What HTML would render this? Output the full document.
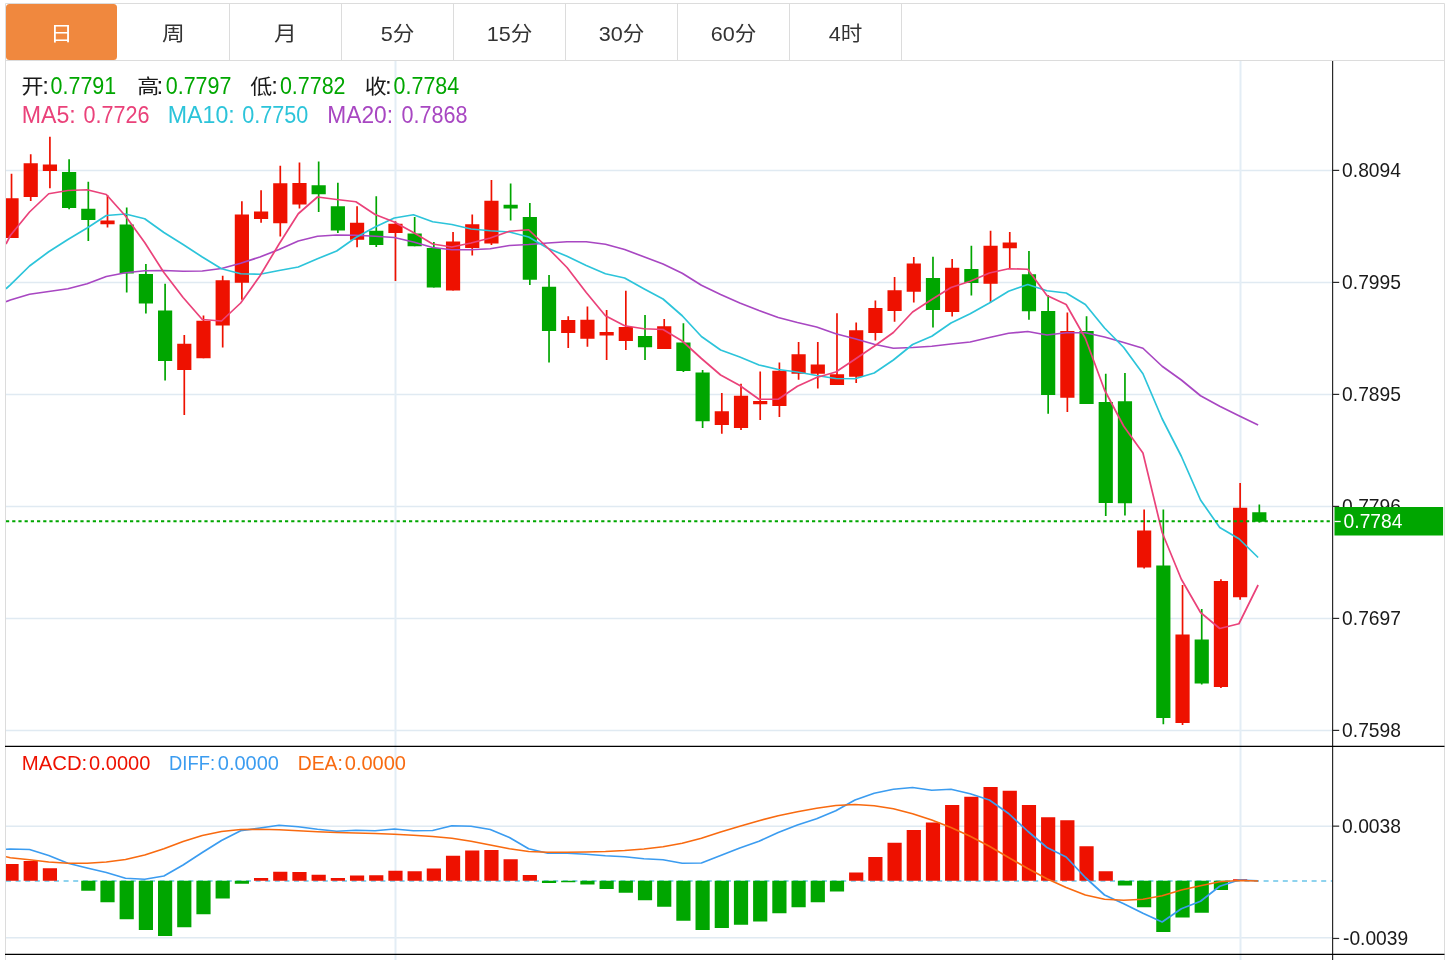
<!DOCTYPE html>
<html lang="zh"><head><meta charset="utf-8"><title>K线图</title>
<style>html,body{margin:0;padding:0;background:#fff}body{width:1456px;height:960px;overflow:hidden}svg{display:block}text{font-family:"Liberation Sans","Noto Sans CJK SC",sans-serif}</style></head><body>
<svg width="1456" height="960" viewBox="0 0 1456 960">
<rect width="1456" height="960" fill="#fff"/>
<defs><clipPath id="c"><rect x="6" y="61" width="1326" height="899"/></clipPath></defs>
<g stroke="#e0eaf2" stroke-width="1.5" fill="none">
<path d="M6 170.5 H1332"/>
<path d="M6 282.5 H1332"/>
<path d="M6 394.5 H1332"/>
<path d="M6 506.5 H1332"/>
<path d="M6 618.5 H1332"/>
<path d="M6 730.5 H1332"/>
<path d="M6 826.25 H1332"/>
<path d="M6 937.75 H1332"/>
</g>
<g stroke="#e3edf5" stroke-width="2" fill="none">
<path d="M395.5 61 V960"/>
<path d="M1240.5 61 V960"/>
</g>
<path d="M6 880.9 H1332" stroke="#8fd3ee" stroke-width="2" stroke-dasharray="5 4.6" fill="none"/>
<g stroke="#dcdcdc" stroke-width="1" fill="none">
<path d="M5.5 3.5 H1444.5 V960 M5.5 3.5 V960 M5.5 60.5 H1444.5"/>
<path d="M229.5 4 V60"/>
<path d="M341.5 4 V60"/>
<path d="M453.5 4 V60"/>
<path d="M565.5 4 V60"/>
<path d="M677.5 4 V60"/>
<path d="M789.5 4 V60"/>
<path d="M901.5 4 V60"/>
</g>
<rect x="6" y="4" width="111" height="56" rx="3.5" fill="#f0883e"/>
<g font-size="20" text-anchor="middle" fill="#333">
<text transform="translate(61.5,40.9) scale(1.14,1)" fill="#fff">日</text>
<text transform="translate(173.5,40.9) scale(1.14,1)">周</text>
<text transform="translate(285.5,40.9) scale(1.14,1)">月</text>
<text transform="translate(397.5,40.9) scale(1.08,1)">5分</text>
<text transform="translate(509.5,40.9) scale(1.08,1)">15分</text>
<text transform="translate(621.5,40.9) scale(1.08,1)">30分</text>
<text transform="translate(733.5,40.9) scale(1.08,1)">60分</text>
<text transform="translate(845.5,40.9) scale(1.08,1)">4时</text>
</g>
<g clip-path="url(#c)">
<path d="M11.52 173.75 V238.00" stroke="#ee1100" stroke-width="1.7"/>
<rect x="4.42" y="198.25" width="14.2" height="39.75" fill="#ee1100"/>
<path d="M30.72 154.25 V201.00" stroke="#ee1100" stroke-width="1.7"/>
<rect x="23.62" y="163.25" width="14.2" height="33.75" fill="#ee1100"/>
<path d="M49.91 136.75 V188.30" stroke="#ee1100" stroke-width="1.7"/>
<rect x="42.81" y="164.50" width="14.2" height="6.50" fill="#ee1100"/>
<path d="M69.11 159.25 V209.25" stroke="#00a600" stroke-width="1.7"/>
<rect x="62.01" y="172.00" width="14.2" height="36.00" fill="#00a600"/>
<path d="M88.31 181.75 V241.00" stroke="#00a600" stroke-width="1.7"/>
<rect x="81.21" y="208.75" width="14.2" height="11.25" fill="#00a600"/>
<path d="M107.50 195.00 V227.50" stroke="#ee1100" stroke-width="1.7"/>
<rect x="100.41" y="220.50" width="14.2" height="3.75" fill="#ee1100"/>
<path d="M126.70 207.50 V292.50" stroke="#00a600" stroke-width="1.7"/>
<rect x="119.60" y="224.50" width="14.2" height="49.00" fill="#00a600"/>
<path d="M145.90 264.00 V313.50" stroke="#00a600" stroke-width="1.7"/>
<rect x="138.80" y="274.00" width="14.2" height="29.50" fill="#00a600"/>
<path d="M165.10 283.75 V380.50" stroke="#00a600" stroke-width="1.7"/>
<rect x="158.00" y="310.50" width="14.2" height="50.50" fill="#00a600"/>
<path d="M184.29 335.00 V415.00" stroke="#ee1100" stroke-width="1.7"/>
<rect x="177.19" y="343.75" width="14.2" height="26.25" fill="#ee1100"/>
<path d="M203.49 315.50 V358.25" stroke="#ee1100" stroke-width="1.7"/>
<rect x="196.39" y="320.75" width="14.2" height="37.50" fill="#ee1100"/>
<path d="M222.69 275.75 V347.50" stroke="#ee1100" stroke-width="1.7"/>
<rect x="215.59" y="280.25" width="14.2" height="45.25" fill="#ee1100"/>
<path d="M241.88 201.25 V299.75" stroke="#ee1100" stroke-width="1.7"/>
<rect x="234.78" y="214.50" width="14.2" height="68.25" fill="#ee1100"/>
<path d="M261.08 190.25 V222.75" stroke="#ee1100" stroke-width="1.7"/>
<rect x="253.98" y="211.50" width="14.2" height="7.50" fill="#ee1100"/>
<path d="M280.28 165.75 V236.50" stroke="#ee1100" stroke-width="1.7"/>
<rect x="273.18" y="183.25" width="14.2" height="40.00" fill="#ee1100"/>
<path d="M299.47 162.50 V208.50" stroke="#ee1100" stroke-width="1.7"/>
<rect x="292.37" y="183.00" width="14.2" height="21.50" fill="#ee1100"/>
<path d="M318.67 161.50 V212.00" stroke="#00a600" stroke-width="1.7"/>
<rect x="311.57" y="185.25" width="14.2" height="9.00" fill="#00a600"/>
<path d="M337.87 182.75 V233.00" stroke="#00a600" stroke-width="1.7"/>
<rect x="330.77" y="206.25" width="14.2" height="24.25" fill="#00a600"/>
<path d="M357.07 206.25 V247.25" stroke="#ee1100" stroke-width="1.7"/>
<rect x="349.97" y="222.75" width="14.2" height="17.00" fill="#ee1100"/>
<path d="M376.26 196.25 V247.00" stroke="#00a600" stroke-width="1.7"/>
<rect x="369.16" y="230.75" width="14.2" height="14.25" fill="#00a600"/>
<path d="M395.46 221.25 V281.00" stroke="#ee1100" stroke-width="1.7"/>
<rect x="388.36" y="223.75" width="14.2" height="9.25" fill="#ee1100"/>
<path d="M414.66 217.00 V246.25" stroke="#00a600" stroke-width="1.7"/>
<rect x="407.56" y="233.50" width="14.2" height="12.75" fill="#00a600"/>
<path d="M433.85 242.00 V287.50" stroke="#00a600" stroke-width="1.7"/>
<rect x="426.75" y="248.00" width="14.2" height="39.50" fill="#00a600"/>
<path d="M453.05 232.00 V290.50" stroke="#ee1100" stroke-width="1.7"/>
<rect x="445.95" y="241.50" width="14.2" height="49.00" fill="#ee1100"/>
<path d="M472.25 214.50 V255.50" stroke="#ee1100" stroke-width="1.7"/>
<rect x="465.15" y="224.25" width="14.2" height="23.75" fill="#ee1100"/>
<path d="M491.44 180.00 V245.00" stroke="#ee1100" stroke-width="1.7"/>
<rect x="484.34" y="200.75" width="14.2" height="42.75" fill="#ee1100"/>
<path d="M510.64 183.50 V220.50" stroke="#00a600" stroke-width="1.7"/>
<rect x="503.54" y="204.75" width="14.2" height="3.75" fill="#00a600"/>
<path d="M529.84 203.00 V285.00" stroke="#00a600" stroke-width="1.7"/>
<rect x="522.74" y="217.00" width="14.2" height="62.75" fill="#00a600"/>
<path d="M549.04 275.00 V362.50" stroke="#00a600" stroke-width="1.7"/>
<rect x="541.94" y="286.75" width="14.2" height="44.25" fill="#00a600"/>
<path d="M568.23 316.25 V348.00" stroke="#ee1100" stroke-width="1.7"/>
<rect x="561.13" y="320.00" width="14.2" height="13.00" fill="#ee1100"/>
<path d="M587.43 306.50 V346.75" stroke="#ee1100" stroke-width="1.7"/>
<rect x="580.33" y="319.75" width="14.2" height="19.00" fill="#ee1100"/>
<path d="M606.63 310.00 V360.00" stroke="#ee1100" stroke-width="1.7"/>
<rect x="599.53" y="332.00" width="14.2" height="3.50" fill="#ee1100"/>
<path d="M625.82 290.75 V350.00" stroke="#ee1100" stroke-width="1.7"/>
<rect x="618.72" y="327.00" width="14.2" height="14.00" fill="#ee1100"/>
<path d="M645.02 315.00 V360.00" stroke="#00a600" stroke-width="1.7"/>
<rect x="637.92" y="336.00" width="14.2" height="11.25" fill="#00a600"/>
<path d="M664.22 319.00 V349.00" stroke="#ee1100" stroke-width="1.7"/>
<rect x="657.12" y="326.25" width="14.2" height="22.75" fill="#ee1100"/>
<path d="M683.41 323.25 V372.00" stroke="#00a600" stroke-width="1.7"/>
<rect x="676.31" y="342.50" width="14.2" height="28.50" fill="#00a600"/>
<path d="M702.61 370.00 V428.00" stroke="#00a600" stroke-width="1.7"/>
<rect x="695.51" y="372.50" width="14.2" height="48.75" fill="#00a600"/>
<path d="M721.81 393.00 V433.75" stroke="#ee1100" stroke-width="1.7"/>
<rect x="714.71" y="411.25" width="14.2" height="13.75" fill="#ee1100"/>
<path d="M741.01 383.75 V430.00" stroke="#ee1100" stroke-width="1.7"/>
<rect x="733.91" y="395.75" width="14.2" height="32.25" fill="#ee1100"/>
<path d="M760.20 371.50 V420.00" stroke="#ee1100" stroke-width="1.7"/>
<rect x="753.10" y="401.00" width="14.2" height="3.25" fill="#ee1100"/>
<path d="M779.40 362.50 V417.00" stroke="#ee1100" stroke-width="1.7"/>
<rect x="772.30" y="370.75" width="14.2" height="35.25" fill="#ee1100"/>
<path d="M798.60 342.00 V379.75" stroke="#ee1100" stroke-width="1.7"/>
<rect x="791.50" y="354.25" width="14.2" height="19.50" fill="#ee1100"/>
<path d="M817.79 342.00 V388.50" stroke="#ee1100" stroke-width="1.7"/>
<rect x="810.69" y="364.50" width="14.2" height="9.25" fill="#ee1100"/>
<path d="M836.99 313.25 V385.00" stroke="#ee1100" stroke-width="1.7"/>
<rect x="829.89" y="374.25" width="14.2" height="10.75" fill="#ee1100"/>
<path d="M856.19 322.50 V383.00" stroke="#ee1100" stroke-width="1.7"/>
<rect x="849.09" y="330.25" width="14.2" height="46.50" fill="#ee1100"/>
<path d="M875.38 300.50 V340.50" stroke="#ee1100" stroke-width="1.7"/>
<rect x="868.28" y="308.00" width="14.2" height="25.00" fill="#ee1100"/>
<path d="M894.58 277.00 V321.75" stroke="#ee1100" stroke-width="1.7"/>
<rect x="887.48" y="290.25" width="14.2" height="20.75" fill="#ee1100"/>
<path d="M913.78 257.00 V302.50" stroke="#ee1100" stroke-width="1.7"/>
<rect x="906.68" y="263.50" width="14.2" height="28.25" fill="#ee1100"/>
<path d="M932.98 256.75 V327.50" stroke="#00a600" stroke-width="1.7"/>
<rect x="925.88" y="278.00" width="14.2" height="32.00" fill="#00a600"/>
<path d="M952.17 259.00 V316.50" stroke="#ee1100" stroke-width="1.7"/>
<rect x="945.07" y="267.75" width="14.2" height="44.25" fill="#ee1100"/>
<path d="M971.37 245.75 V295.50" stroke="#00a600" stroke-width="1.7"/>
<rect x="964.27" y="269.00" width="14.2" height="14.00" fill="#00a600"/>
<path d="M990.57 230.75 V302.50" stroke="#ee1100" stroke-width="1.7"/>
<rect x="983.47" y="245.75" width="14.2" height="38.00" fill="#ee1100"/>
<path d="M1009.76 232.00 V268.75" stroke="#ee1100" stroke-width="1.7"/>
<rect x="1002.66" y="242.50" width="14.2" height="5.75" fill="#ee1100"/>
<path d="M1028.96 251.00 V319.75" stroke="#00a600" stroke-width="1.7"/>
<rect x="1021.86" y="274.25" width="14.2" height="37.00" fill="#00a600"/>
<path d="M1048.16 295.00 V413.75" stroke="#00a600" stroke-width="1.7"/>
<rect x="1041.06" y="311.00" width="14.2" height="84.00" fill="#00a600"/>
<path d="M1067.36 312.50 V412.00" stroke="#ee1100" stroke-width="1.7"/>
<rect x="1060.26" y="331.00" width="14.2" height="66.75" fill="#ee1100"/>
<path d="M1086.55 316.25 V404.00" stroke="#00a600" stroke-width="1.7"/>
<rect x="1079.45" y="331.00" width="14.2" height="73.00" fill="#00a600"/>
<path d="M1105.75 373.75 V516.00" stroke="#00a600" stroke-width="1.7"/>
<rect x="1098.65" y="402.00" width="14.2" height="101.00" fill="#00a600"/>
<path d="M1124.95 373.00 V515.50" stroke="#00a600" stroke-width="1.7"/>
<rect x="1117.85" y="401.25" width="14.2" height="102.00" fill="#00a600"/>
<path d="M1144.14 509.50 V568.50" stroke="#ee1100" stroke-width="1.7"/>
<rect x="1137.04" y="530.50" width="14.2" height="37.00" fill="#ee1100"/>
<path d="M1163.34 509.50 V724.25" stroke="#00a600" stroke-width="1.7"/>
<rect x="1156.24" y="565.50" width="14.2" height="152.50" fill="#00a600"/>
<path d="M1182.54 585.00 V725.00" stroke="#ee1100" stroke-width="1.7"/>
<rect x="1175.44" y="634.50" width="14.2" height="88.50" fill="#ee1100"/>
<path d="M1201.73 609.00 V684.50" stroke="#00a600" stroke-width="1.7"/>
<rect x="1194.63" y="639.50" width="14.2" height="44.00" fill="#00a600"/>
<path d="M1220.93 579.25 V688.00" stroke="#ee1100" stroke-width="1.7"/>
<rect x="1213.83" y="581.00" width="14.2" height="106.00" fill="#ee1100"/>
<path d="M1240.13 483.00 V599.75" stroke="#ee1100" stroke-width="1.7"/>
<rect x="1233.03" y="507.75" width="14.2" height="89.50" fill="#ee1100"/>
<path d="M1259.32 504.50 V522.50" stroke="#00a600" stroke-width="1.7"/>
<rect x="1252.22" y="512.25" width="14.2" height="9.50" fill="#00a600"/>
<rect x="4.42" y="864.00" width="14.2" height="16.75" fill="#ee1100"/>
<rect x="23.62" y="861.00" width="14.2" height="19.75" fill="#ee1100"/>
<rect x="42.81" y="868.25" width="14.2" height="12.50" fill="#ee1100"/>
<rect x="81.21" y="880.75" width="14.2" height="10.00" fill="#00a600"/>
<rect x="100.41" y="880.75" width="14.2" height="21.50" fill="#00a600"/>
<rect x="119.60" y="880.75" width="14.2" height="38.50" fill="#00a600"/>
<rect x="138.80" y="880.75" width="14.2" height="49.25" fill="#00a600"/>
<rect x="158.00" y="880.75" width="14.2" height="55.25" fill="#00a600"/>
<rect x="177.19" y="880.75" width="14.2" height="46.50" fill="#00a600"/>
<rect x="196.39" y="880.75" width="14.2" height="33.50" fill="#00a600"/>
<rect x="215.59" y="880.75" width="14.2" height="17.75" fill="#00a600"/>
<rect x="234.78" y="880.75" width="14.2" height="3.00" fill="#00a600"/>
<rect x="253.98" y="878.00" width="14.2" height="2.75" fill="#ee1100"/>
<rect x="273.18" y="871.75" width="14.2" height="9.00" fill="#ee1100"/>
<rect x="292.37" y="872.00" width="14.2" height="8.75" fill="#ee1100"/>
<rect x="311.57" y="874.75" width="14.2" height="6.00" fill="#ee1100"/>
<rect x="330.77" y="878.00" width="14.2" height="2.75" fill="#ee1100"/>
<rect x="349.97" y="875.50" width="14.2" height="5.25" fill="#ee1100"/>
<rect x="369.16" y="875.25" width="14.2" height="5.50" fill="#ee1100"/>
<rect x="388.36" y="870.75" width="14.2" height="10.00" fill="#ee1100"/>
<rect x="407.56" y="871.25" width="14.2" height="9.50" fill="#ee1100"/>
<rect x="426.75" y="868.50" width="14.2" height="12.25" fill="#ee1100"/>
<rect x="445.95" y="855.75" width="14.2" height="25.00" fill="#ee1100"/>
<rect x="465.15" y="850.50" width="14.2" height="30.25" fill="#ee1100"/>
<rect x="484.34" y="850.00" width="14.2" height="30.75" fill="#ee1100"/>
<rect x="503.54" y="859.25" width="14.2" height="21.50" fill="#ee1100"/>
<rect x="522.74" y="875.00" width="14.2" height="5.75" fill="#ee1100"/>
<rect x="541.94" y="880.75" width="14.2" height="2.25" fill="#00a600"/>
<rect x="561.13" y="880.75" width="14.2" height="1.50" fill="#00a600"/>
<rect x="580.33" y="880.75" width="14.2" height="3.75" fill="#00a600"/>
<rect x="599.53" y="880.75" width="14.2" height="8.25" fill="#00a600"/>
<rect x="618.72" y="880.75" width="14.2" height="12.00" fill="#00a600"/>
<rect x="637.92" y="880.75" width="14.2" height="19.50" fill="#00a600"/>
<rect x="657.12" y="880.75" width="14.2" height="26.00" fill="#00a600"/>
<rect x="676.31" y="880.75" width="14.2" height="40.00" fill="#00a600"/>
<rect x="695.51" y="880.75" width="14.2" height="49.25" fill="#00a600"/>
<rect x="714.71" y="880.75" width="14.2" height="47.25" fill="#00a600"/>
<rect x="733.91" y="880.75" width="14.2" height="44.00" fill="#00a600"/>
<rect x="753.10" y="880.75" width="14.2" height="40.75" fill="#00a600"/>
<rect x="772.30" y="880.75" width="14.2" height="32.50" fill="#00a600"/>
<rect x="791.50" y="880.75" width="14.2" height="26.50" fill="#00a600"/>
<rect x="810.69" y="880.75" width="14.2" height="21.50" fill="#00a600"/>
<rect x="829.89" y="880.75" width="14.2" height="10.75" fill="#00a600"/>
<rect x="849.09" y="872.50" width="14.2" height="8.25" fill="#ee1100"/>
<rect x="868.28" y="857.00" width="14.2" height="23.75" fill="#ee1100"/>
<rect x="887.48" y="842.75" width="14.2" height="38.00" fill="#ee1100"/>
<rect x="906.68" y="830.00" width="14.2" height="50.75" fill="#ee1100"/>
<rect x="925.88" y="822.50" width="14.2" height="58.25" fill="#ee1100"/>
<rect x="945.07" y="805.00" width="14.2" height="75.75" fill="#ee1100"/>
<rect x="964.27" y="796.75" width="14.2" height="84.00" fill="#ee1100"/>
<rect x="983.47" y="787.00" width="14.2" height="93.75" fill="#ee1100"/>
<rect x="1002.66" y="790.75" width="14.2" height="90.00" fill="#ee1100"/>
<rect x="1021.86" y="805.00" width="14.2" height="75.75" fill="#ee1100"/>
<rect x="1041.06" y="817.25" width="14.2" height="63.50" fill="#ee1100"/>
<rect x="1060.26" y="820.25" width="14.2" height="60.50" fill="#ee1100"/>
<rect x="1079.45" y="846.25" width="14.2" height="34.50" fill="#ee1100"/>
<rect x="1098.65" y="871.25" width="14.2" height="9.50" fill="#ee1100"/>
<rect x="1117.85" y="880.75" width="14.2" height="4.75" fill="#00a600"/>
<rect x="1137.04" y="880.75" width="14.2" height="26.50" fill="#00a600"/>
<rect x="1156.24" y="880.75" width="14.2" height="51.25" fill="#00a600"/>
<rect x="1175.44" y="880.75" width="14.2" height="36.75" fill="#00a600"/>
<rect x="1194.63" y="880.75" width="14.2" height="32.00" fill="#00a600"/>
<rect x="1213.83" y="880.75" width="14.2" height="9.25" fill="#00a600"/>
<rect x="1233.03" y="879.25" width="14.2" height="1.50" fill="#ee1100"/>
<polyline points="6.00,301.75 10.32,300.00 29.52,294.25 48.71,291.50 67.91,288.75 87.11,283.75 106.30,276.50 125.50,272.75 144.70,270.75 163.90,270.50 183.09,271.25 202.29,271.00 221.49,268.50 240.68,263.25 259.88,257.00 279.08,249.50 298.27,241.00 317.47,236.25 336.67,235.00 355.87,235.25 375.06,236.25 394.26,237.50 413.46,242.00 432.65,247.50 451.85,249.75 471.05,249.75 490.24,248.75 509.44,245.50 528.64,244.50 547.84,243.00 567.03,241.75 586.23,241.75 605.43,244.25 624.62,249.50 643.82,256.75 663.02,264.00 682.21,273.25 701.41,285.25 720.61,294.50 739.81,303.00 759.00,310.50 778.20,317.50 797.40,322.50 816.59,327.00 835.79,333.75 854.99,338.75 874.18,344.25 893.38,348.25 912.58,347.50 931.78,346.25 950.97,344.00 970.17,342.00 989.37,337.50 1008.56,333.25 1027.76,331.50 1046.96,335.00 1066.15,332.75 1085.35,332.75 1104.55,337.00 1123.75,342.50 1142.94,348.25 1162.14,366.25 1181.34,380.00 1200.53,395.75 1219.73,406.25 1238.93,415.75 1258.12,425.00" fill="none" stroke="#a847c2" stroke-width="1.7" stroke-linejoin="round"/>
<polyline points="6.00,288.75 10.32,284.80 29.52,266.00 48.71,251.75 67.91,239.50 87.11,228.00 106.30,215.50 125.50,214.00 144.70,218.75 163.90,232.50 183.09,244.50 202.29,257.00 221.49,268.75 240.68,273.75 259.88,274.25 279.08,270.50 298.27,267.00 317.47,258.75 336.67,251.00 355.87,237.50 375.06,227.00 394.26,218.00 413.46,214.75 432.65,221.75 451.85,224.50 471.05,229.00 490.24,230.75 509.44,232.00 528.64,237.00 547.84,248.25 567.03,256.25 586.23,265.50 605.43,273.75 624.62,278.00 643.82,288.75 663.02,299.00 682.21,315.75 701.41,336.50 720.61,350.00 739.81,357.00 759.00,365.00 778.20,369.50 797.40,372.00 816.59,375.50 835.79,378.50 854.99,378.75 874.18,373.00 893.38,360.00 912.58,344.50 931.78,336.25 950.97,323.00 970.17,313.75 989.37,303.00 1008.56,291.25 1027.76,284.50 1046.96,290.75 1066.15,293.00 1085.35,304.50 1104.55,328.00 1123.75,347.50 1142.94,373.75 1162.14,418.75 1181.34,456.25 1200.53,500.00 1219.73,527.50 1238.93,538.75 1258.12,557.50" fill="none" stroke="#2cc4da" stroke-width="1.7" stroke-linejoin="round"/>
<polyline points="6.00,244.00 10.32,235.50 29.52,212.00 48.71,193.75 67.91,190.50 87.11,189.75 106.30,194.50 125.50,216.00 144.70,242.50 163.90,272.50 183.09,297.50 202.29,319.50 221.49,321.00 240.68,303.00 259.88,276.00 279.08,244.00 298.27,213.75 317.47,197.00 336.67,199.50 355.87,201.75 375.06,214.50 394.26,222.00 413.46,232.50 432.65,244.00 451.85,247.00 471.05,243.00 490.24,238.00 509.44,231.25 528.64,229.75 547.84,248.00 567.03,267.50 586.23,292.50 605.43,315.75 624.62,325.75 643.82,328.75 663.02,329.50 682.21,341.00 701.41,358.50 720.61,375.00 739.81,385.50 759.00,399.25 778.20,399.25 797.40,386.25 816.59,377.50 835.79,372.00 854.99,359.25 874.18,346.25 893.38,332.50 912.58,312.00 931.78,299.50 950.97,287.50 970.17,281.25 989.37,273.00 1008.56,268.75 1027.76,269.25 1046.96,295.50 1066.15,304.50 1085.35,338.25 1104.55,390.00 1123.75,426.25 1142.94,453.00 1162.14,532.50 1181.34,579.25 1200.53,612.50 1219.73,628.50 1238.93,623.75 1258.12,585.00" fill="none" stroke="#ea427a" stroke-width="1.7" stroke-linejoin="round"/>
<polyline points="6.00,849.25 10.32,849.00 29.52,849.50 48.71,855.50 67.91,863.25 87.11,868.00 106.30,872.50 125.50,878.25 144.70,879.25 163.90,876.00 183.09,865.00 202.29,852.50 221.49,840.50 240.68,830.75 259.88,828.00 279.08,825.25 298.27,826.75 317.47,829.25 336.67,831.25 355.87,830.25 375.06,830.75 394.26,829.00 413.46,830.75 432.65,830.50 451.85,825.75 471.05,826.25 490.24,829.50 509.44,837.50 528.64,848.75 547.84,853.25 567.03,853.25 586.23,854.25 605.43,855.75 624.62,856.75 643.82,858.75 663.02,859.75 682.21,863.25 701.41,863.00 720.61,855.50 739.81,848.00 759.00,841.25 778.20,832.50 797.40,825.00 816.59,818.75 835.79,810.75 854.99,800.00 874.18,793.25 893.38,789.25 912.58,787.50 931.78,790.25 950.97,789.25 970.17,793.75 989.37,800.00 1008.56,813.50 1027.76,831.25 1046.96,847.50 1066.15,857.00 1085.35,877.50 1104.55,895.00 1123.75,903.75 1142.94,913.25 1162.14,922.00 1181.34,908.75 1200.53,901.25 1219.73,886.25 1238.93,880.00 1258.12,880.75" fill="none" stroke="#3b9cf0" stroke-width="1.7" stroke-linejoin="round"/>
<polyline points="6.00,856.75 10.32,857.75 29.52,859.75 48.71,862.00 67.91,863.25 87.11,863.25 106.30,862.00 125.50,859.50 144.70,855.00 163.90,848.75 183.09,841.50 202.29,835.50 221.49,831.50 240.68,829.50 259.88,829.25 279.08,829.75 298.27,830.75 317.47,831.75 336.67,832.50 355.87,833.00 375.06,833.50 394.26,834.25 413.46,835.25 432.65,836.50 451.85,838.25 471.05,841.25 490.24,845.00 509.44,848.75 528.64,851.50 547.84,852.25 567.03,852.25 586.23,852.00 605.43,851.50 624.62,850.50 643.82,849.00 663.02,846.75 682.21,843.25 701.41,838.25 720.61,832.00 739.81,826.25 759.00,820.75 778.20,815.75 797.40,811.75 816.59,808.25 835.79,805.50 854.99,804.50 874.18,805.75 893.38,808.75 912.58,813.75 931.78,820.00 950.97,827.50 970.17,836.25 989.37,846.25 1008.56,857.50 1027.76,868.50 1046.96,878.75 1066.15,887.50 1085.35,895.00 1104.55,899.25 1123.75,900.25 1142.94,899.25 1162.14,895.75 1181.34,890.00 1200.53,885.75 1219.73,881.75 1238.93,880.50 1258.12,881.00" fill="none" stroke="#f86a10" stroke-width="1.7" stroke-linejoin="round"/>
</g>
<path d="M6 521.3 H1332" stroke="#00a600" stroke-width="2" stroke-dasharray="3.2 3" fill="none"/>
<g stroke="#2a2a2a" stroke-width="1.2" fill="none">
<path d="M1332.6 61 V960"/>
<path d="M1332 170.4 H1339.2"/>
<path d="M1332 282.4 H1339.2"/>
<path d="M1332 394.4 H1339.2"/>
<path d="M1332 506.4 H1339.2"/>
<path d="M1332 618.4 H1339.2"/>
<path d="M1332 730.4 H1339.2"/>
<path d="M1332 826.15 H1339.2"/>
<path d="M1332 938.45 H1339.2"/>
</g>
<g stroke="#000" stroke-width="1.3" fill="none">
<path d="M5 746.3 H1444.5"/>
<path d="M5 954.3 H1444.5"/>
</g>
<g font-size="20.8" fill="#1a1a1a" stroke="#1a1a1a" stroke-width="0">
<text x="1342.1" y="177.4" textLength="58.8" lengthAdjust="spacingAndGlyphs">0.8094</text>
<text x="1342.1" y="289.4" textLength="58.8" lengthAdjust="spacingAndGlyphs">0.7995</text>
<text x="1342.1" y="401.4" textLength="58.8" lengthAdjust="spacingAndGlyphs">0.7895</text>
<text x="1342.1" y="513.4" textLength="58.8" lengthAdjust="spacingAndGlyphs">0.7796</text>
<text x="1342.1" y="625.4" textLength="58.8" lengthAdjust="spacingAndGlyphs">0.7697</text>
<text x="1342.1" y="737.4" textLength="58.8" lengthAdjust="spacingAndGlyphs">0.7598</text>
<text x="1342.1" y="833.15" textLength="58.8" lengthAdjust="spacingAndGlyphs">0.0038</text>
<text x="1343" y="944.65" textLength="65.2" lengthAdjust="spacingAndGlyphs">-0.0039</text>
</g>
<rect x="1334.5" y="507" width="108.6" height="28.5" fill="#00a600"/>
<path d="M1334.5 521.5 H1340.7" stroke="#fff" stroke-width="1.3"/>
<text x="1343.6" y="528.4" font-size="20.8" fill="#fff" stroke="#fff" stroke-width="0" textLength="58.8" lengthAdjust="spacingAndGlyphs">0.7784</text>
<text x="21.5" y="94.4" font-size="20" fill="#1a1a1a" stroke="#1a1a1a" stroke-width="0" textLength="22" lengthAdjust="spacingAndGlyphs">开</text>
<text x="42.2" y="94.0" font-size="24" fill="#1a1a1a" stroke="#1a1a1a" stroke-width="0">:</text>
<text x="50.6" y="94.0" font-size="24" fill="#00a600" stroke="#00a600" stroke-width="0" textLength="65.6" lengthAdjust="spacingAndGlyphs">0.7791</text>
<text x="137.20000000000002" y="94.4" font-size="20" fill="#1a1a1a" stroke="#1a1a1a" stroke-width="0" textLength="22" lengthAdjust="spacingAndGlyphs">高</text>
<text x="156.5" y="94.0" font-size="24" fill="#1a1a1a" stroke="#1a1a1a" stroke-width="0">:</text>
<text x="165.8" y="94.0" font-size="24" fill="#00a600" stroke="#00a600" stroke-width="0" textLength="65.6" lengthAdjust="spacingAndGlyphs">0.7797</text>
<text x="250.20000000000002" y="94.4" font-size="20" fill="#1a1a1a" stroke="#1a1a1a" stroke-width="0" textLength="22" lengthAdjust="spacingAndGlyphs">低</text>
<text x="271.2" y="94.0" font-size="24" fill="#1a1a1a" stroke="#1a1a1a" stroke-width="0">:</text>
<text x="279.9" y="94.0" font-size="24" fill="#00a600" stroke="#00a600" stroke-width="0" textLength="65.6" lengthAdjust="spacingAndGlyphs">0.7782</text>
<text x="364.8" y="94.4" font-size="20" fill="#1a1a1a" stroke="#1a1a1a" stroke-width="0" textLength="22" lengthAdjust="spacingAndGlyphs">收</text>
<text x="384.9" y="94.0" font-size="24" fill="#1a1a1a" stroke="#1a1a1a" stroke-width="0">:</text>
<text x="393.6" y="94.0" font-size="24" fill="#00a600" stroke="#00a600" stroke-width="0" textLength="65.6" lengthAdjust="spacingAndGlyphs">0.7784</text>
<text x="21.7" y="122.8" font-size="24" fill="#ea427a" stroke="#ea427a" stroke-width="0" textLength="54" lengthAdjust="spacingAndGlyphs">MA5:</text>
<text x="83.5" y="122.8" font-size="24" fill="#ea427a" stroke="#ea427a" stroke-width="0" textLength="66" lengthAdjust="spacingAndGlyphs">0.7726</text>
<text x="167.8" y="122.8" font-size="24" fill="#2cc4da" stroke="#2cc4da" stroke-width="0" textLength="67" lengthAdjust="spacingAndGlyphs">MA10:</text>
<text x="242.3" y="122.8" font-size="24" fill="#2cc4da" stroke="#2cc4da" stroke-width="0" textLength="66" lengthAdjust="spacingAndGlyphs">0.7750</text>
<text x="327.3" y="122.8" font-size="24" fill="#a847c2" stroke="#a847c2" stroke-width="0" textLength="65.8" lengthAdjust="spacingAndGlyphs">MA20:</text>
<text x="401.4" y="122.8" font-size="24" fill="#a847c2" stroke="#a847c2" stroke-width="0" textLength="66" lengthAdjust="spacingAndGlyphs">0.7868</text>
<text x="21.7" y="770" font-size="20" fill="#ee1100" stroke="#ee1100" stroke-width="0" textLength="65.6" lengthAdjust="spacingAndGlyphs">MACD:</text>
<text x="89.1" y="770" font-size="20" fill="#ee1100" stroke="#ee1100" stroke-width="0" textLength="61.2" lengthAdjust="spacingAndGlyphs">0.0000</text>
<text x="169" y="770" font-size="20" fill="#3b9cf0" stroke="#3b9cf0" stroke-width="0" textLength="46" lengthAdjust="spacingAndGlyphs">DIFF:</text>
<text x="217.8" y="770" font-size="20" fill="#3b9cf0" stroke="#3b9cf0" stroke-width="0" textLength="61.2" lengthAdjust="spacingAndGlyphs">0.0000</text>
<text x="297.7" y="770" font-size="20" fill="#f86a10" stroke="#f86a10" stroke-width="0" textLength="45.2" lengthAdjust="spacingAndGlyphs">DEA:</text>
<text x="344.8" y="770" font-size="20" fill="#f86a10" stroke="#f86a10" stroke-width="0" textLength="61.2" lengthAdjust="spacingAndGlyphs">0.0000</text>
</svg></body></html>
